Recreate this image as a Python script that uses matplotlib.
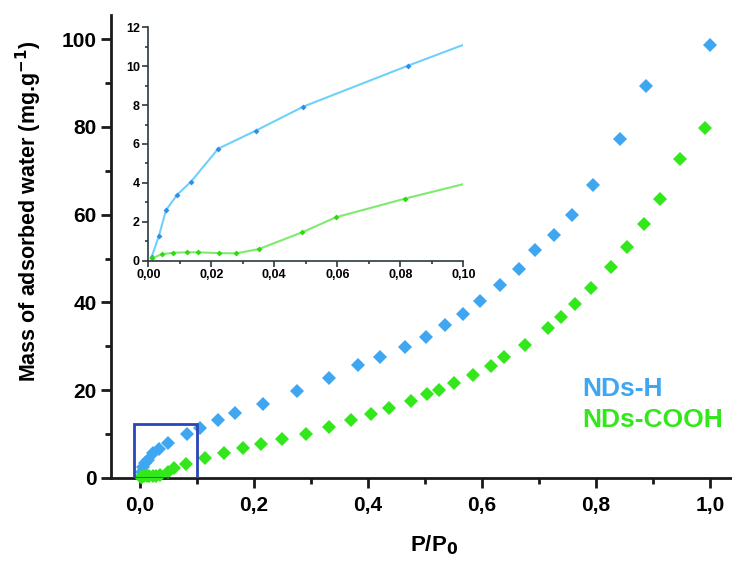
import matplotlib
matplotlib.use("Agg")
import matplotlib.pyplot as plt
from matplotlib.ticker import MultipleLocator, FuncFormatter
from matplotlib.patches import Rectangle

# ---- data ----
h_p = [0.0011, 0.0034, 0.0056, 0.0091, 0.0135, 0.0222, 0.0342, 0.0492, 0.0825,
       0.105, 0.136, 0.167, 0.216, 0.275, 0.332, 0.383, 0.421, 0.465, 0.502,
       0.535, 0.567, 0.596, 0.632, 0.665, 0.693, 0.727, 0.758, 0.795, 0.842,
       0.887, 1.0]
h_v = [0.21, 1.29, 2.59, 3.38, 4.05, 5.76, 6.69, 7.92, 10.03,
       11.4, 13.2, 14.7, 16.8, 19.9, 22.7, 25.8, 27.5, 29.8, 32.2,
       34.8, 37.4, 40.3, 43.9, 47.6, 51.9, 55.4, 60.0, 66.8, 77.3,
       89.3, 98.6]
c_p = [0.0011, 0.0042, 0.0079, 0.0124, 0.0159, 0.0225, 0.0280, 0.0351, 0.0489,
       0.0595, 0.0815, 0.114, 0.147, 0.180, 0.213, 0.250, 0.291, 0.332, 0.370,
       0.405, 0.437, 0.475, 0.503, 0.525, 0.551, 0.585, 0.615, 0.639, 0.675,
       0.716, 0.739, 0.763, 0.791, 0.827, 0.855, 0.885, 0.912, 0.948, 0.991]
c_v = [0.12, 0.33, 0.41, 0.43, 0.43, 0.39, 0.38, 0.60, 1.46,
       2.23, 3.19, 4.5, 5.7, 6.8, 7.8, 8.9, 10.1, 11.6, 13.2,
       14.5, 15.9, 17.5, 19.2, 20.1, 21.7, 23.4, 25.5, 27.6, 30.3,
       34.1, 36.7, 39.6, 43.3, 48.0, 52.7, 57.9, 63.5, 72.8, 79.8]
labels = ["NDs-H", "NDs-COOH"]

plt.rcParams['font.family'] = ['Liberation Sans', 'DejaVu Sans']
plt.rcParams['font.weight'] = 'bold'
plt.rcParams['mathtext.default'] = 'bf'

blue = '#3fa6f2'
green = '#33e81a'

fig = plt.figure(figsize=(7.32, 5.66), dpi=100)
ax = fig.add_axes([0.1523, 0.1555, 0.8566, 0.818])
ax.plot(h_p, h_v, 'D', color=blue, ms=7.5, mew=0, clip_on=False, zorder=3)
ax.plot(c_p, c_v, 'D', color=green, ms=7.5, mew=0, clip_on=False, zorder=3)
ax.set_xlim(-0.05, 1.05)
ax.set_ylim(0, 105.5)
for s in ['top', 'right']:
    ax.spines[s].set_visible(False)
for s in ['left', 'bottom']:
    ax.spines[s].set_linewidth(2)
    ax.spines[s].set_color('#1a1a1a')
ax.xaxis.set_major_locator(MultipleLocator(0.2))
ax.xaxis.set_minor_locator(MultipleLocator(0.1))
ax.yaxis.set_major_locator(MultipleLocator(20))
ax.yaxis.set_minor_locator(MultipleLocator(10))
ax.xaxis.set_major_formatter(FuncFormatter(lambda x, p: f"{x:.1f}".replace('.', ',')))
ax.tick_params(which='major', length=7, width=2, labelsize=15, color='#1a1a1a')
ax.tick_params(which='minor', length=4, width=2, color='#1a1a1a')
ax.tick_params(axis='x', pad=6)
ax.set_xlabel("P/P$_0$", fontsize=16, fontweight='bold')
ax.xaxis.set_label_coords(0.515, -0.12)
ax.set_ylabel("Mass of adsorbed water (mg.g$^{-1}$)", fontsize=15.5, fontweight='bold')
ax.yaxis.set_label_coords(-0.107, 0.575)
ax.add_patch(Rectangle((-0.01, 0), 0.11, 12.3, fill=False, edgecolor='#2a45b5', lw=2, zorder=4))
ax.text(0.775, 20.3, labels[0], color=blue, fontsize=19, fontweight='bold', va='center')
ax.text(0.775, 13.3, labels[1], color=green, fontsize=19, fontweight='bold', va='center')

ins = fig.add_axes([0.2026, 0.5394, 0.4303, 0.4124])
ins.patch.set_alpha(0)
ins.plot(h_p, h_v, '-', color='#6fd0fa', lw=1.5)
ins.plot(h_p, h_v, 'D', color='#2f8ee8', ms=3, mew=0)
ins.plot(c_p, c_v, '-', color='#7fea6f', lw=1.5)
ins.plot(c_p, c_v, 'D', color='#30d810', ms=3, mew=0)
ins.set_xlim(0, 0.1)
ins.set_ylim(0, 12)
for s in ['top', 'right']:
    ins.spines[s].set_visible(False)
for s in ['left', 'bottom']:
    ins.spines[s].set_linewidth(1.2)
    ins.spines[s].set_color('#2a3a40')
ins.xaxis.set_major_locator(MultipleLocator(0.02))
ins.xaxis.set_minor_locator(MultipleLocator(0.01))
ins.yaxis.set_major_locator(MultipleLocator(2))
ins.yaxis.set_minor_locator(MultipleLocator(1))
ins.xaxis.set_major_formatter(FuncFormatter(lambda x, p: f"{x:.2f}".replace('.', ',')))
ins.tick_params(which='major', length=4, width=1.2, labelsize=9, pad=2, color='#2a3a40')
ins.tick_params(which='minor', length=2, width=1.2, color='#2a3a40')

fig.savefig("out.png", dpi=100)
